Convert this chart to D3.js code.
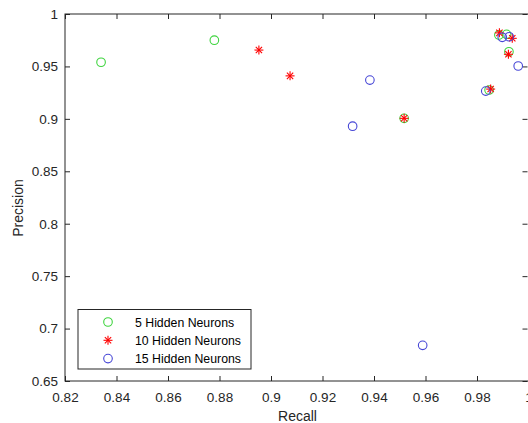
<!DOCTYPE html>
<html><head><meta charset="utf-8">
<script src="https://cdn.jsdelivr.net/npm/d3@7"></script>
<style>html,body{margin:0;padding:0;background:#fff;overflow:hidden}</style>
</head><body>
<svg id="c" width="528" height="423"></svg>
<script>
const xTicks = [0.82,0.84,0.86,0.88,0.9,0.92,0.94,0.96,0.98,1];
const yTicks = [0.65,0.7,0.75,0.8,0.85,0.9,0.95,1];
const seriesNames = ["5 Hidden Neurons","10 Hidden Neurons","15 Hidden Neurons"];
const recall5  = [0.834,0.878,0.9517,0.9847,0.9885,0.9915,0.9924];
const prec5    = [0.954,0.975,0.9005,0.9275,0.980,0.9806,0.964];
const recall10 = [0.8953,0.9074,0.9517,0.9853,0.9887,0.9937,0.9922];
const prec10   = [0.9656,0.941,0.9005,0.9284,0.982,0.9768,0.9616];
const recall15 = [0.9317,0.9384,0.9589,0.996,0.9834,0.9898,0.9925];
const prec15   = [0.893,0.937,0.684,0.9504,0.9265,0.9778,0.9783];

const svg = d3.select("#c");
const L=65,R=528.5,T=14,B=381;
const x = d3.scaleLinear().domain([0.82,1]).range([L,R]);
const y = d3.scaleLinear().domain([0.65,1]).range([B,T]);
const axisCol="#262626", font="'Liberation Sans', Arial, sans-serif";

svg.append("rect").attr("x",L).attr("y",T).attr("width",R-L).attr("height",B-T)
  .attr("fill","none").attr("stroke",axisCol).attr("stroke-width",1);

const fmt = d=>d3.format("")(+d.toFixed(2));
const gx = svg.append("g").attr("transform",`translate(0,${B})`)
  .call(d3.axisBottom(x).tickValues(xTicks).tickFormat(fmt).tickSizeInner(-5).tickSizeOuter(0).tickPadding(11));
const gxt = svg.append("g").attr("transform",`translate(0,${T})`)
  .call(d3.axisTop(x).tickValues(xTicks).tickFormat("").tickSizeInner(-5).tickSizeOuter(0));
const gy = svg.append("g").attr("transform",`translate(${L},0)`)
  .call(d3.axisLeft(y).tickValues(yTicks).tickFormat(fmt).tickSizeInner(-5).tickSizeOuter(0).tickPadding(7));
const gyr = svg.append("g").attr("transform",`translate(${R-1},0)`)
  .call(d3.axisRight(y).tickValues(yTicks).tickFormat("").tickSizeInner(-5).tickSizeOuter(0));
[gx,gxt,gy,gyr].forEach(g=>{
  g.select(".domain").remove();
  g.selectAll("line").attr("stroke",axisCol);
  g.selectAll("text").attr("fill",axisCol).style("font-family",font).style("font-size","13.5px");
});

svg.append("text").attr("x",297.5).attr("y",421).attr("text-anchor","middle")
  .style("font-family",font).style("font-size","14px").attr("fill",axisCol).text("Recall");
svg.append("text").attr("transform",`translate(23,208) rotate(-90)`).attr("text-anchor","middle")
  .style("font-family",font).style("font-size","14px").attr("fill",axisCol).text("Precision");

const green="#3ed43e", red="#ff0000", blue="#4646d6";
function circles(xs,ys,col){
  svg.append("g").selectAll("circle").data(xs).join("circle")
    .attr("cx",(d)=>x(d)).attr("cy",(d,i)=>y(ys[i])).attr("r",4.3)
    .attr("fill","none").attr("stroke",col).attr("stroke-width",1.1);
}
function star(g,cx,cy,s,col){
  const lines=[[-s,0,s,0],[0,-s,0,s],[-s*0.7,-s*0.7,s*0.7,s*0.7],[-s*0.7,s*0.7,s*0.7,-s*0.7]];
  lines.forEach(l=>g.append("line").attr("x1",cx+l[0]).attr("y1",cy+l[1]).attr("x2",cx+l[2]).attr("y2",cy+l[3])
    .attr("stroke",col).attr("stroke-width",1.1));
}
circles(recall5,prec5,green);
const gs = svg.append("g");
recall10.forEach((d,i)=>star(gs,x(d),y(prec10[i]),4.5,red));
circles(recall15,prec15,blue);

const lg = svg.append("g");
lg.append("rect").attr("x",78).attr("y",309.5).attr("width",173).attr("height",59.5)
  .attr("fill","#fff").attr("stroke",axisCol).attr("stroke-width",1);
const cols=[green,red,blue];
seriesNames.forEach((n,i)=>{
  const cy=322+i*18.3;
  if(i===1) star(lg,108,cy,4.5,red);
  else lg.append("circle").attr("cx",108).attr("cy",cy).attr("r",4.3).attr("fill","none").attr("stroke",cols[i]).attr("stroke-width",1.1);
  lg.append("text").attr("x",135).attr("y",cy+4.5).style("font-family",font).style("font-size","12.3px").attr("fill","#000").text(n);
});
</script>
</body></html>
